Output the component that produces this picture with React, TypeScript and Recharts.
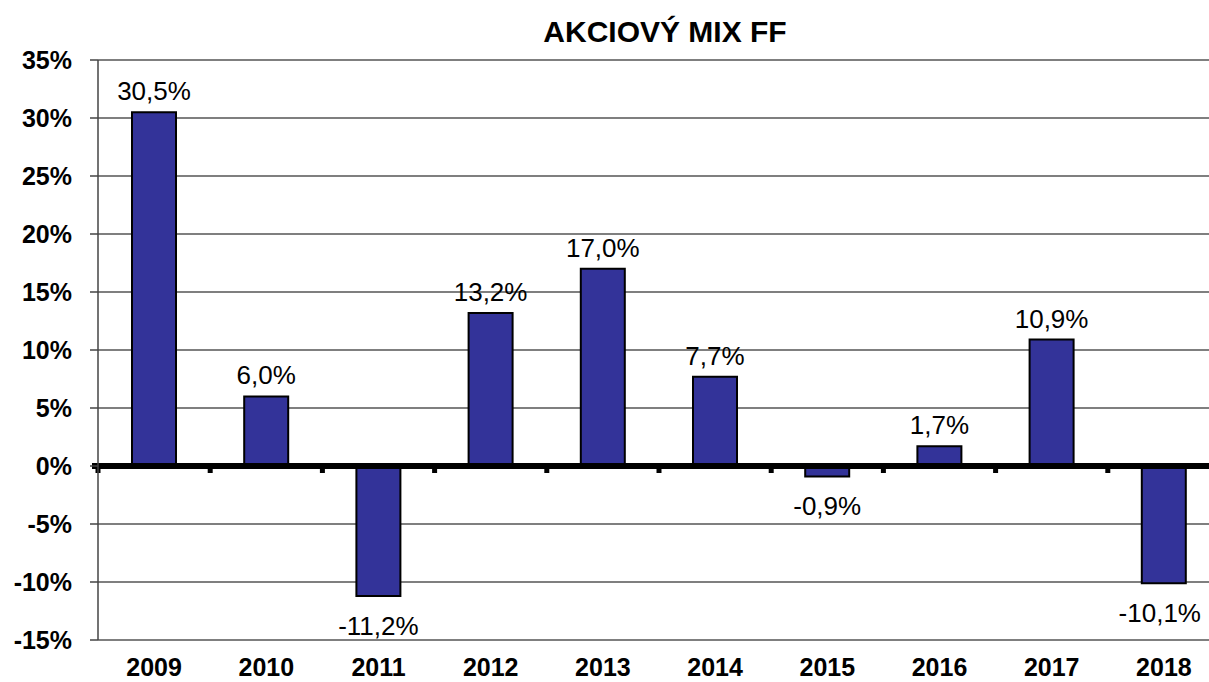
import React from 'react';
import { BarChart, Bar, XAxis, YAxis, CartesianGrid, ReferenceLine, LabelList } from 'recharts';

const years = ['2009', '2010', '2011', '2012', '2013', '2014', '2015', '2016', '2017', '2018'];
const returns = [30.5, 6.0, -11.2, 13.2, 17.0, 7.7, -0.9, 1.7, 10.9, -10.1];
const yTicks = [-15, -10, -5, 0, 5, 10, 15, 20, 25, 30, 35];
const title = 'AKCIOVÝ  MIX FF';

const data = years.map((year, i) => ({ year, value: returns[i] }));

const FONT = '"Liberation Sans", Arial, Helvetica, sans-serif';
const VISIBLE_RIGHT = 1201;

const fmt = (v: number) => v.toFixed(1).replace('.', ',') + '%';

function ValueLabel(props: any) {
  const { x, y, width, height, value } = props;
  const top = Math.min(y, y + height);
  const bottom = Math.max(y, y + height);
  const cx = x + width / 2;
  const ty = value >= 0 ? top - 12 : bottom + 39;
  const txt = fmt(value);
  const approxHalf = (txt.length * 26 * 0.56) / 2;
  const overflow = cx + approxHalf > VISIBLE_RIGHT;
  return (
    <text
      x={overflow ? VISIBLE_RIGHT : cx}
      y={ty}
      textAnchor={overflow ? 'end' : 'middle'}
      fontFamily={FONT}
      fontSize={26}
      fill="#000"
    >
      {txt}
    </text>
  );
}

function XTick(props: any) {
  const { x, y, payload } = props;
  return (
    <text x={x} y={y + 36} textAnchor="middle" fontFamily={FONT} fontSize={25} fontWeight="bold" fill="#000">
      {payload.value}
    </text>
  );
}

function ZeroLine(props: any) {
  const { x1, x2, y1 } = props;
  const n = years.length;
  const step = (x2 - x1) / n;
  const marks = [];
  for (let i = 0; i <= n; i++) {
    marks.push(<rect key={i} x={x1 + i * step - 2.5} y={y1} width={5} height={7} fill="#000" />);
  }
  return (
    <g>
      <rect x={x1 - 6} y={y1 - 3} width={x2 - x1 + 6} height={6} fill="#000" />
      {marks}
    </g>
  );
}

export default function App() {
  return (
    <div style={{ position: 'fixed', left: 0, top: 0, width: 1209, height: 682, overflow: 'hidden', background: '#fff' }}>
      <svg style={{ position: 'absolute', left: 0, top: 0 }} width={1209} height={60}>
        <text x={665} y={42} textAnchor="middle" fontFamily={FONT} fontWeight="bold" fontSize={30} fill="#000">
          {title}
        </text>
      </svg>
      <BarChart
        width={1222}
        height={682}
        data={data}
        margin={{ top: 60, right: 2, bottom: 2, left: 0 }}
        barSize={44}
      >
        <CartesianGrid vertical={false} stroke="#555" strokeWidth={1.5} />
        <XAxis
          dataKey="year"
          height={40}
          axisLine={false}
          tickLine={false}
          tickSize={0}
          tickMargin={0}
          interval={0}
          tick={<XTick />}
        />
        <YAxis
          width={98}
          domain={[-15, 35]}
          ticks={yTicks}
          interval={0}
          tickFormatter={(v: number) => `${v}%`}
          tick={{ fontSize: 25, fontWeight: 'bold', fill: '#000', fontFamily: FONT }}
          axisLine={{ stroke: '#444', strokeWidth: 1.5 }}
          tickLine={{ stroke: '#444', strokeWidth: 1.5 }}
          tickSize={8}
          tickMargin={18}
        />
        <Bar dataKey="value" fill="#333399" stroke="#000" strokeWidth={2} isAnimationActive={false}>
          <LabelList dataKey="value" content={<ValueLabel />} />
        </Bar>
        <ReferenceLine y={0} shape={<ZeroLine />} />
      </BarChart>
    </div>
  );
}
